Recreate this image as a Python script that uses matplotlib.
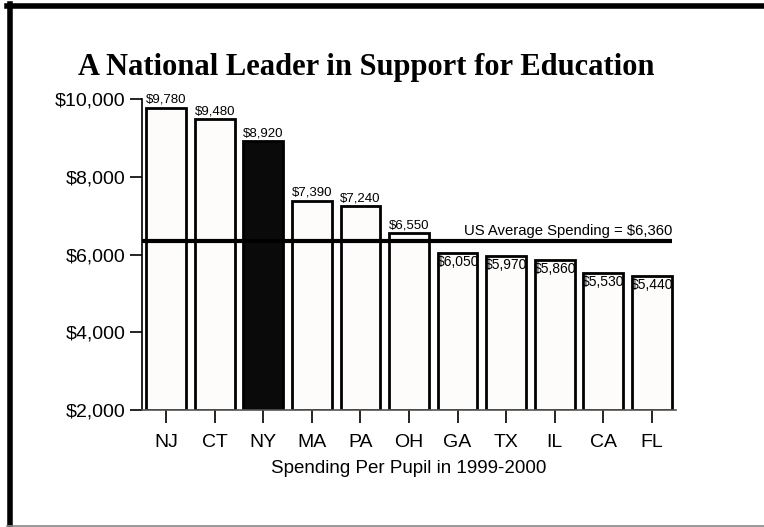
import matplotlib.pyplot as plt
from matplotlib.lines import Line2D
from matplotlib.ticker import FuncFormatter

# Dépenses par élève, 1999-2000
states = ['NJ', 'CT', 'NY', 'MA', 'PA', 'OH', 'GA', 'TX', 'IL', 'CA', 'FL']
spending = [9780, 9480, 8920, 7390, 7240, 6550, 6050, 5970, 5860, 5530, 5440]
us_average = 6360
y_ticks = [2000, 4000, 6000, 8000, 10000]

plt.rcParams['font.family'] = ['Liberation Sans', 'DejaVu Sans']

fig = plt.figure(figsize=(7.64, 5.27), dpi=100)
ax = fig.add_axes([0.1859, 0.222, 0.699, 0.590])

colors = ['#0a0a0a' if s == 'NY' else '#fdfcfa' for s in states]
x = list(range(len(states)))
ax.bar(x, [v - 2000 for v in spending], bottom=2000, width=0.82,
       color=colors, edgecolor='black', linewidth=2, zorder=2)

# étiquettes de valeur : au-dessus pour les barres hautes, dedans pour les autres
for i, v in enumerate(spending):
    txt = '${:,}'.format(v)
    if v > us_average:
        ax.text(i, v + 50, txt, ha='center', va='bottom', fontsize=9.5, zorder=4)
    else:
        ax.text(i, v - 50, txt, ha='center', va='top', fontsize=10, zorder=4)

# moyenne nationale
ax.hlines(us_average, -0.5, 10.42, color='black', linewidth=3, zorder=3)
ax.text(10.42, us_average + 60, 'US Average Spending = ${:,}'.format(us_average),
        ha='right', va='bottom', fontsize=10.7)

ax.set_xlim(-0.5, 10.5)
ax.set_ylim(2000, 10000)
ax.set_xticks(x)
ax.set_xticklabels(states, fontsize=14)
ax.set_yticks(y_ticks)
ax.yaxis.set_major_formatter(FuncFormatter(lambda v, p: '${:,.0f}'.format(v)))
ax.tick_params(axis='y', labelsize=14, length=9, width=1.2, pad=3)
ax.tick_params(axis='x', length=9, width=1.2, pad=8)
ax.set_xlabel('Spending Per Pupil in 1999-2000', fontsize=13.5, labelpad=7)

for side in ['top', 'right']:
    ax.spines[side].set_visible(False)
ax.spines['left'].set_linewidth(1.2)
ax.spines['bottom'].set_linewidth(1.2)
ax.spines['bottom'].set_color('#555555')

fig.text(0.102, 0.872, 'A National Leader in Support for Education',
         fontsize=22, fontweight='bold', family=['Liberation Serif', 'DejaVu Serif'],
         ha='left', va='center')

# cadre du panneau
W, H = 764, 527
fig.add_artist(Line2D([7 / W, 1], [1 - 6 / H, 1 - 6 / H], color='black', linewidth=4))
fig.add_artist(Line2D([9.5 / W, 9.5 / W], [1 - 4 / H, 1 - 526 / H], color='black', linewidth=4))
fig.add_artist(Line2D([7 / W, 1], [1 - 525.5 / H, 1 - 525.5 / H], color='#888888', linewidth=1.2))

plt.savefig('out.png', dpi=100)
